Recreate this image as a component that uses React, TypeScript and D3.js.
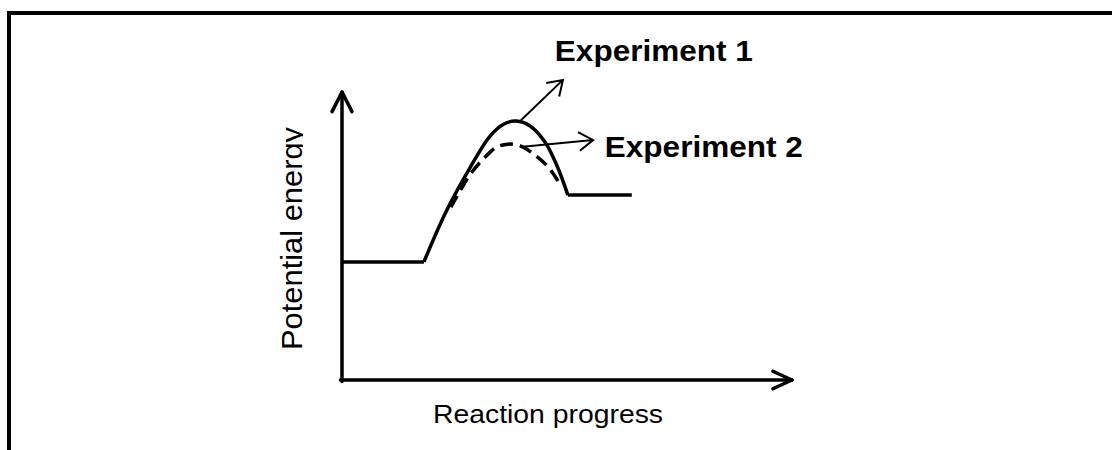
import * as d3 from "d3";
import { useEffect, useRef } from "react";

// energy profile, both axes in arbitrary units 0..100
const solidStart = [
  [0, 41],
  [18.2, 41],
];
const solidHump = [
  [18.2, 41],
  [23.3, 59],
  [28.4, 73.6],
  [32.9, 84.7],
  [36, 88.9],
  [38.7, 89.9],
  [41.8, 88.2],
  [45.1, 82.6],
  [47.8, 74.3],
  [50.2, 64.2],
];
const solidEnd = [
  [50.2, 64.2],
  [64.4, 64.2],
];
const dashedHump = [
  [24.2, 60],
  [28.4, 71.2],
  [31.8, 77.4],
  [34.4, 80.9],
  [36.9, 81.9],
  [39.6, 81.3],
  [42.9, 78.1],
  [45.8, 74],
  [48, 69.1],
];

const labels = ["Experiment 1", "Experiment 2"];
// arrow from curve to label: [start, end]
const labelArrows = [
  [
    [39.6, 89.9],
    [49.1, 104.2],
  ],
  [
    [39.6, 80.9],
    [55.8, 83.3],
  ],
];
const labelPos = [
  [47.3, 110.8],
  [58.4, 77.4],
];
const axisTitles = ["Reaction progress", "Potential energy"];

const W = 1112;
const H = 450;
const FONT = "'Liberation Sans', Arial, sans-serif";

const drawChart = (target: any) => {
  const root = d3.select(target);
  root.selectAll("svg").remove();
  const svg = d3
    .create("svg")
    .attr("width", W)
    .attr("height", H)
    .style("position", "absolute")
    .style("left", 0)
    .style("top", 0)
    .style("background", "#fff");

  const x = d3.scaleLinear().domain([0, 100]).range([342, 792]);
  const y = d3.scaleLinear().domain([0, 100]).range([380, 92]);

  // frame (top + left edges)
  svg
    .append("path")
    .attr("d", `M9,450 V13 H${W}`)
    .attr("fill", "none")
    .attr("stroke", "#000")
    .attr("stroke-width", 4);

  const arrowHead = (
    tip: [number, number],
    from: [number, number],
    len: number,
    ang: number
  ) => {
    const a = Math.atan2(from[1] - tip[1], from[0] - tip[0]);
    const p1 = [tip[0] + len * Math.cos(a + ang), tip[1] + len * Math.sin(a + ang)];
    const p2 = [tip[0] + len * Math.cos(a - ang), tip[1] + len * Math.sin(a - ang)];
    return `M${p1[0]},${p1[1]} L${tip[0]},${tip[1]} L${p2[0]},${p2[1]}`;
  };

  // axes
  const axes = svg
    .append("g")
    .attr("fill", "none")
    .attr("stroke", "#000")
    .attr("stroke-width", 3.5)
    .attr("stroke-linecap", "round")
    .attr("stroke-linejoin", "round");
  axes
    .append("path")
    .attr("d", `M${x(0)},${y(0) + 1.5} V${y(100)} M${x(0) - 1.5},${y(0)} H${x(100)}`);
  axes
    .append("path")
    .attr("d", arrowHead([x(0), y(100)], [x(0), y(0)], 22, 0.47));
  axes
    .append("path")
    .attr("d", arrowHead([x(100), y(0)], [x(0), y(0)], 21, 0.43));

  const line = d3
    .line()
    .x((d) => x(d[0]))
    .y((d) => y(d[1]));
  const curve = d3
    .line()
    .x((d) => x(d[0]))
    .y((d) => y(d[1]))
    .curve(d3.curveCatmullRom.alpha(0.5));

  const g = svg
    .append("g")
    .attr("fill", "none")
    .attr("stroke", "#000")
    .attr("stroke-width", 3.5);
  g.append("path").attr("d", line(solidStart as any));
  g.append("path").attr("d", curve(solidHump as any));
  g.append("path").attr("d", line(solidEnd as any));
  g.append("path")
    .attr("d", curve(dashedHump as any))
    .attr("stroke-dasharray", "13,7");

  // label arrows
  labelArrows.forEach(([s, e]) => {
    const s0: [number, number] = [x(s[0]), y(s[1])];
    const e0: [number, number] = [x(e[0]), y(e[1])];
    svg
      .append("path")
      .attr("d", `M${s0[0]},${s0[1]} L${e0[0]},${e0[1]} ${arrowHead(e0, s0, 17, 0.58)}`)
      .attr("fill", "none")
      .attr("stroke", "#000")
      .attr("stroke-width", 2);
  });

  labels.forEach((t, i) => {
    svg
      .append("text")
      .attr("x", x(labelPos[i][0]))
      .attr("y", y(labelPos[i][1]))
      .attr("font-family", FONT)
      .attr("font-weight", "bold")
      .attr("font-size", 29)
      .attr("textLength", 198)
      .attr("lengthAdjust", "spacingAndGlyphs")
      .text(t);
  });

  svg
    .append("text")
    .attr("x", 433)
    .attr("y", 423)
    .attr("font-family", FONT)
    .attr("font-size", 26)
    .attr("textLength", 230)
    .attr("lengthAdjust", "spacingAndGlyphs")
    .text(axisTitles[0]);

  // y title is clipped just below its baseline, as in the source
  svg
    .append("clipPath")
    .attr("id", "yclip")
    .append("rect")
    .attr("x", 260)
    .attr("y", 100)
    .attr("width", 43)
    .attr("height", 280);
  svg
    .append("g")
    .attr("clip-path", "url(#yclip)")
    .append("text")
    .attr("transform", "translate(302,350) rotate(-90)")
    .attr("font-family", FONT)
    .attr("font-size", 30)
    .attr("textLength", 223)
    .attr("lengthAdjust", "spacingAndGlyphs")
    .text(axisTitles[1]);

  root.append(() => svg.node());
};

const App = () => {
  const ref = useRef<HTMLDivElement>(null);
  useEffect(() => {
    if (ref.current) drawChart(ref.current);
  }, []);
  return <div ref={ref} style={{ width: W, height: H }} />;
};

export default App;
